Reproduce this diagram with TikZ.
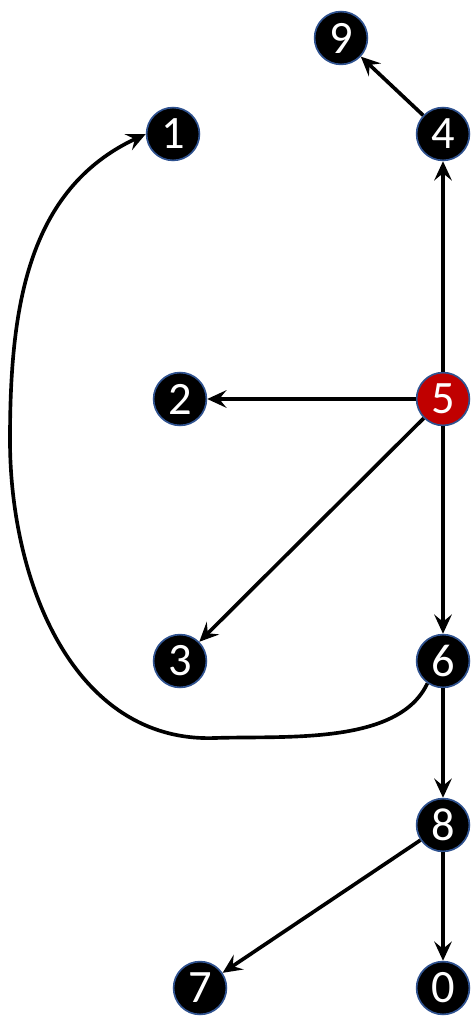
\documentclass[tikz,border=0pt]{standalone}
\usepackage{fontspec}
\setmainfont{Carlito}
\usetikzlibrary{arrows.meta}
\definecolor{rim}{RGB}{47,82,143}
\definecolor{crimson}{RGB}{192,0,0}
\tikzset{
  >={Stealth[length=4.8mm,width=4.4mm,inset=1.8mm]},
  vert/.style={circle,fill=#1,draw=rim,line width=1.2pt,text=white,
    minimum size=13.2mm,inner sep=0pt,font=\fontsize{33}{33}\selectfont},
  vert/.default=black,
  flow/.style={->,line width=2.6pt,draw=black},
}
\begin{document}
\begin{tikzpicture}[x=0.025cm,y=-0.025cm]
  \useasboundingbox (0,0) rectangle (472,1016);
  % vertices
  \node[vert] (9) at (341,38) {9};
  \node[vert] (1) at (173,134) {1};
  \node[vert] (4) at (443,134) {4};
  \node[vert] (2) at (180,399) {2};
  \node[vert=crimson] (5) at (443,399) {5};
  \node[vert] (3) at (180,661) {3};
  \node[vert] (6) at (443,661) {6};
  \node[vert] (8) at (443,825) {8};
  \node[vert] (7) at (200,988) {7};
  \node[vert] (0) at (443,988) {0};
  % edges
  \draw[flow] (4) -- (9);
  \draw[flow] (5) -- (4);
  \draw[flow] (5) -- (2);
  \draw[flow] (5) -- (3);
  \draw[flow] (5) -- (6);
  \draw[flow] (6) -- (8);
  \draw[flow] (8) -- (7);
  \draw[flow] (8) -- (0);
  % long way round
  \coordinate (low) at (215,738);
  \coordinate (far) at (10,440);
  \draw[flow] (6.235) to[out=-115,in=2,looseness=0.8] (low)
    to[out=182,in=-90] (far) to[out=90,in=205] (1.west);
\end{tikzpicture}
\end{document}
